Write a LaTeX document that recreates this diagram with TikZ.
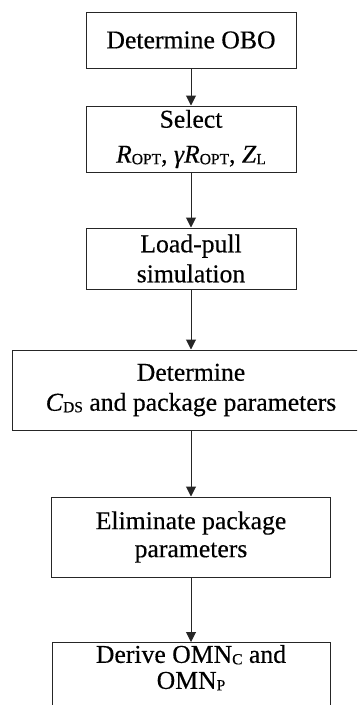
\documentclass[tikz,border=0pt]{standalone}
\usepackage{fontspec}
\setmainfont{Liberation Serif}[FakeBold=0.4]
\usetikzlibrary{arrows.meta}
\newcommand\sbs[1]{\raisebox{-1.5pt}{\fontsize{15.5pt}{15.5pt}\selectfont #1}}
\begin{document}
\begin{tikzpicture}[x=1pt,y=1pt,
  box/.style={draw=black!85, line width=1pt, rectangle, inner sep=2pt, align=center,
    font=\fontsize{25.7pt}{30pt}\selectfont},
  arr/.style={draw=black!85, line width=1pt, -{Triangle[length=10pt,width=10pt]}}]
\useasboundingbox (0,0) rectangle (357,-705);
\clip (0,0) rectangle (357,-705);
\node[box, minimum width=210pt, minimum height=56pt] (b1) at (191,-40) {Determine OBO};
\node[box, minimum width=210pt, minimum height=66pt] (b2) at (191,-139)
  {Select\\[5pt]\textit{R}\sbs{OPT}, \textit{γR}\sbs{OPT}, \textit{Z}\sbs{L}};
\node[box, minimum width=210pt, minimum height=61pt] (b3) at (191,-258.5) {Load-pull\\simulation};
\node[box, minimum width=358pt, minimum height=80pt] (b4) at (191,-390)
  {Determine\\\textit{C}\sbs{DS} and package parameters};
\node[box, minimum width=279pt, minimum height=80pt] (b5) at (191,-537)
  {Eliminate package\\[-2pt]parameters};
\node[box, minimum width=278pt, minimum height=80pt, anchor=north] (b6) at (191,-642)
  {\begin{minipage}[c][75pt][t]{260pt}\centering\fontsize{25.7pt}{26pt}\selectfont
   Derive OMN\sbs{C} and\\OMN\sbs{P}\end{minipage}};
\draw[arr] (b1) -- (b2);
\draw[arr] (b2) -- (b3);
\draw[arr] (b3) -- (b4);
\draw[arr] (b4) -- (b5);
\draw[arr] (b5) -- (b6);
\end{tikzpicture}
\end{document}
